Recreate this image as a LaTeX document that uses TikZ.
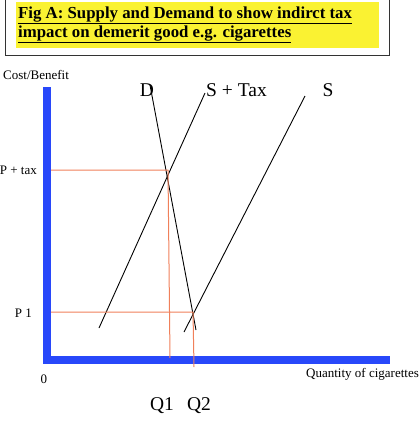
\documentclass[tikz,border=0pt]{standalone}
\usepackage{fontspec}
\setmainfont{Liberation Serif}
\definecolor{axblue}{RGB}{40,72,250}
\definecolor{ttlyellow}{RGB}{250,242,50}
\definecolor{guide}{RGB}{240,128,90}
\tikzset{
  axis/.style={axblue,line width=7.5pt},
  curve/.style={black,line width=0.9pt},
  guideline/.style={guide,line width=1pt},
  small/.style={font=\fontsize{13}{15}\selectfont,inner sep=0pt},
  big/.style={font=\fontsize{19.5}{22}\selectfont,inner sep=0pt},
  ttl/.style={font=\bfseries\fontsize{16.8}{19}\selectfont,inner sep=0pt,anchor=base west},
}
\begin{document}
\begin{tikzpicture}[x=1pt,y=-1pt]
\useasboundingbox (0,0) rectangle (419,421);
% title box
\draw[line width=1.6pt,black!80] (5.5,-3) rectangle (389.5,55.5);
\fill[ttlyellow] (16,2) rectangle (379,48);
\node[ttl] (title1) at (18,18) {\underline{Fig A: Supply and Demand to show indirct tax}};
\node[ttl] (title2) at (18,37) {\underline{impact on demerit good e.g. cigarettes}};
% axes
\coordinate (top) at (47,87);
\coordinate (orig) at (47,360);
\coordinate (right) at (390,360);
\draw[axis] (top) -- (orig) -- (right);
% curves
\coordinate (d1) at (150,85);
\coordinate (d2) at (196,330);
\coordinate (t1) at (205,93);
\coordinate (t2) at (99,328);
\coordinate (s1) at (305,96);
\coordinate (s2) at (184,332);
\draw[curve] (d1) -- (d2);
\draw[curve] (t1) -- (t2);
\draw[curve] (s1) -- (s2);
% guides
\coordinate (ptax) at (51,170);
\coordinate (e1) at (168,170);
\coordinate (q1b) at (170,358);
\coordinate (p1) at (51,312);
\coordinate (e2) at (193,312);
\coordinate (q2b) at (194,367);
\draw[guideline] (ptax) -- (e1) -- (q1b);
\draw[guideline] (p1) -- (e2) -- (q2b);
% labels
\node[small,anchor=west] (cb) at (3,75) {Cost/Benefit};
\node[small,anchor=east] (lptax) at (37,170) {P + tax};
\node[small,anchor=east] (lp1) at (32,313) {P 1};
\node[small] (zero) at (44,379) {0};
\node[small,anchor=west] (qty) at (306,374) {Quantity of cigarettes};
\node[big] (lD) at (147,90) {D};
\node[big,anchor=west] (lT) at (206,90) {S + Tax};
\node[big] (lS) at (328,90) {S};
\node[big] (lq1) at (162,406) {Q1};
\node[big] (lq2) at (199,406) {Q2};
\end{tikzpicture}
\end{document}
